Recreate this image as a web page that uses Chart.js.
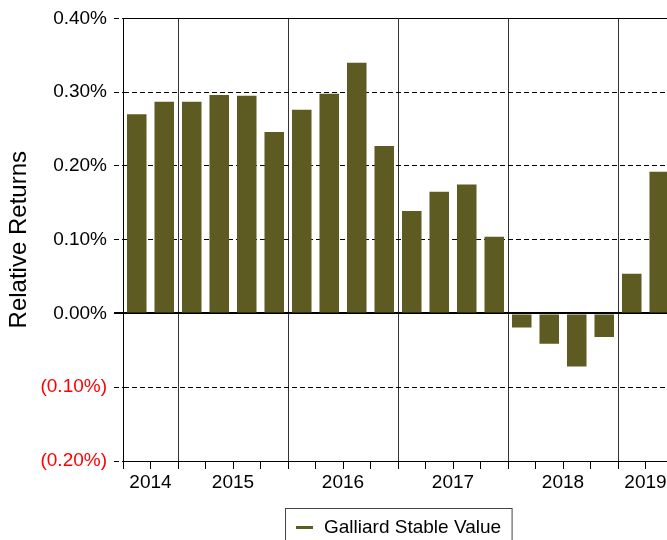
<!DOCTYPE html>
<html>
<head>
<meta charset="utf-8">
<script src="https://cdn.jsdelivr.net/npm/chart.js@4/dist/chart.umd.min.js"></script>
<style>
  html, body { margin: 0; padding: 0; background: #ffffff; overflow: hidden; width: 667px; height: 540px; }
  #wrap { position: relative; width: 700px; height: 540px; }
</style>
</head>
<body>
<div id="wrap"><canvas id="c" width="700" height="540"></canvas></div>
<script>
// ---- data ----
const quarters = ['2014 Q3','2014 Q4',
  '2015 Q1','2015 Q2','2015 Q3','2015 Q4',
  '2016 Q1','2016 Q2','2016 Q3','2016 Q4',
  '2017 Q1','2017 Q2','2017 Q3','2017 Q4',
  '2018 Q1','2018 Q2','2018 Q3','2018 Q4',
  '2019 Q1','2019 Q2'];
const relativeReturns = [0.270, 0.287,
  0.287, 0.296, 0.295, 0.246,
  0.276, 0.298, 0.340, 0.227,
  0.139, 0.165, 0.175, 0.104,
  -0.019, -0.041, -0.072, -0.032,
  0.054, 0.192];
const seriesName = 'Galliard Stable Value';
const yTickValues = [-0.2, -0.1, 0.0, 0.1, 0.2, 0.3, 0.4];
const yearLabels = ['2014','2015','2016','2017','2018','2019'];

// ---- styles ----
const FONT = "'Liberation Sans', Arial, Helvetica, sans-serif";
const OLIVE = '#5d5b22';

const yearOf = q => q.split(' ')[0];
// index of the quarter after which the year label is centred (label is shifted by half a category)
const labelIndexForYear = {};
yearLabels.forEach(y => {
  const idx = quarters.map((q, i) => yearOf(q) === y ? i : -1).filter(i => i >= 0);
  labelIndexForYear[y] = Math.floor((idx[0] + idx[idx.length - 1]) / 2);
});
const isYearBoundary = i => i > 0 && i < quarters.length && yearOf(quarters[i]) !== yearOf(quarters[i - 1]);
const isZero = v => Math.abs(v) < 1e-9;
const isTop = v => Math.abs(v - yTickValues[yTickValues.length - 1]) < 1e-9;
const fmt = v => {
  if (isZero(v)) return '0.00%';
  return v < 0 ? '(' + Math.abs(v).toFixed(2) + '%)' : v.toFixed(2) + '%';
};

const boxLegend = {
  id: 'boxLegend',
  afterDraw(chart) {
    const ctx = chart.ctx;
    const ca = chart.chartArea;
    ctx.save();
    ctx.font = '19px ' + FONT;
    const tw = ctx.measureText(seriesName).width;
    const padL = 10.5, lineW = 17, gap = 11, padR = 11;
    const w = padL + lineW + gap + tw + padR;
    const cx = (ca.left + ca.right) / 2;
    const x0 = Math.round(cx - w / 2) + 0.5;
    const y0 = 508.5;
    ctx.strokeStyle = '#444';
    ctx.lineWidth = 1;
    ctx.strokeRect(x0, y0, w, 60);
    ctx.strokeStyle = OLIVE;
    ctx.lineWidth = 3;
    ctx.beginPath();
    ctx.moveTo(x0 + padL, 527.5);
    ctx.lineTo(x0 + padL + lineW, 527.5);
    ctx.stroke();
    ctx.fillStyle = '#000';
    ctx.textBaseline = 'alphabetic';
    ctx.textAlign = 'left';
    ctx.fillText(seriesName, x0 + padL + lineW + gap, 532.5);
    ctx.restore();
  }
};

new Chart(document.getElementById('c'), {
  type: 'bar',
  data: {
    labels: quarters,
    datasets: [{
      label: seriesName,
      data: relativeReturns,
      backgroundColor: OLIVE,
      borderWidth: 0,
      categoryPercentage: 1.0,
      barPercentage: 0.71
    }]
  },
  options: {
    responsive: false,
    animation: false,
    devicePixelRatio: 1,
    layout: { padding: { top: 18, right: 27, bottom: 0, left: 0 } },
    plugins: { legend: { display: false }, tooltip: { enabled: false } },
    scales: {
      x: {
        type: 'category',
        offset: true,
        afterFit: s => { s.height = 79; },
        grid: {
          offset: true,
          color: c => isYearBoundary(c.index) ? '#333' : 'rgba(0,0,0,0)',
          tickColor: '#000',
          lineWidth: 1,
          tickLength: 8,
          drawTicks: true
        },
        border: { display: true, color: '#000', width: 1 },
        ticks: {
          autoSkip: false,
          maxRotation: 0,
          minRotation: 0,
          padding: 2,
          labelOffset: 13.75,
          color: '#000',
          font: { family: FONT, size: 19 },
          callback: (val, idx) => {
            const y = yearOf(quarters[idx]);
            return labelIndexForYear[y] === idx ? y : '';
          }
        }
      },
      y: {
        min: yTickValues[0],
        max: yTickValues[yTickValues.length - 1],
        afterFit: s => { s.width = 123; },
        afterBuildTicks: s => { s.ticks = yTickValues.map(v => ({ value: v })); },
        grid: {
          color: '#000',
          lineWidth: c => (c.tick && isZero(c.tick.value)) ? 2 : 1,
          tickWidth: c => (c.tick && isZero(c.tick.value)) ? 2 : 1,
          tickColor: '#000',
          tickLength: 9,
          tickBorderDash: c => (c.tick && isZero(c.tick.value)) ? [] : [5, 3]
        },
        border: {
          display: true,
          color: '#000',
          width: 1,
          dash: c => (c.tick && (isZero(c.tick.value) || isTop(c.tick.value))) ? [] : [5, 3]
        },
        ticks: {
          padding: 7,
          font: { family: FONT, size: 19 },
          color: c => (c.tick && c.tick.value < -1e-9) ? '#ff0000' : '#000',
          callback: v => fmt(v)
        },
        title: {
          display: true,
          text: 'Relative Returns',
          color: '#000',
          font: { family: FONT, size: 24 },
          padding: { top: 5, bottom: 0 }
        }
      }
    }
  },
  plugins: [boxLegend]
});
</script>
</body>
</html>
